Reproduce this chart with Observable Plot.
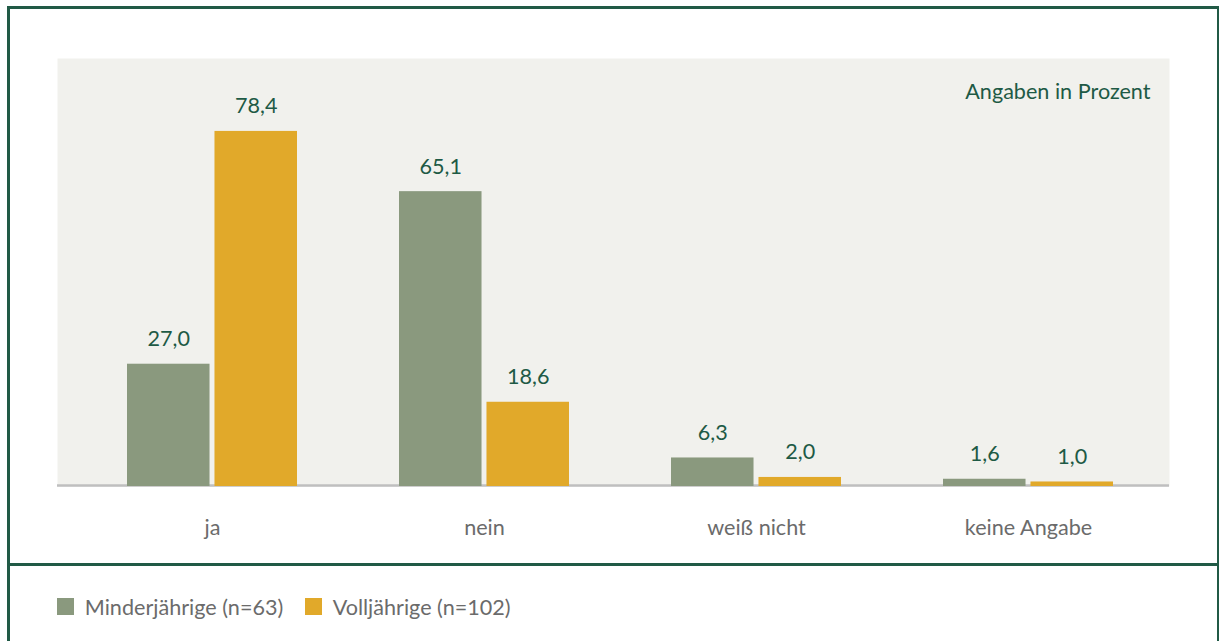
<!DOCTYPE html>
<html>
<head>
<meta charset="utf-8">
<script src="https://cdn.jsdelivr.net/npm/d3@7"></script>
<script src="https://cdn.jsdelivr.net/npm/@observablehq/plot@0.6"></script>
<style>
  html, body { margin: 0; padding: 0; background: #fff; width: 1219px; height: 641px; overflow: hidden; }
  body { position: relative; font-family: Lato, "Open Sans", sans-serif; }
  #frame { position: absolute; left: 7px; top: 6px; width: 1207px; height: 700px; border: 3px solid #215a46; box-sizing: content-box; }
  #sep { position: absolute; left: 7px; top: 563px; width: 1215px; height: 3px; background: #215a46; }
  #chart { position: absolute; left: 0; top: 0; }
  #legend { position: absolute; left: 57px; top: 590px; }
</style>
</head>
<body>
<div id="frame"></div>
<div id="sep"></div>
<div id="chart"></div>
<div id="legend"></div>
<script>
const categories = ["ja", "nein", "weiß nicht", "keine Angabe"];
const seriesNames = ["Minderjährige (n=63)", "Volljährige (n=102)"];
const minderjaehrige = [27.0, 65.1, 6.3, 1.6];
const volljaehrige = [78.4, 18.6, 2.0, 1.0];
const seriesColors = ["#8a997e", "#e1a92a"];
const unitNote = ["Angaben in Prozent"];

const textGreen = "#1e5a45";
const fontPx = 21.6;
const fmt = v => v.toFixed(1).replace(".", ",");

const dataM = categories.map((c, i) => ({cat: c, series: seriesNames[0], value: minderjaehrige[i]}));
const dataV = categories.map((c, i) => ({cat: c, series: seriesNames[1], value: volljaehrige[i]}));

const xRange = [74, 1165];
const pad = 0.375;
const step = (xRange[1] - xRange[0]) / categories.length;
const bw = step * (1 - pad);
const gap = 4.5;
const inset = bw / 2 + gap / 2;
const offset = (bw - inset) / 2 - bw / 2; // negative: center of left bar relative to band center

const chart = Plot.plot({
  width: 1219,
  height: 560,
  marginLeft: 57,
  marginRight: 50,
  marginTop: 58,
  marginBottom: 74,
  style: {fontFamily: "Lato, 'Open Sans', sans-serif", fontSize: fontPx + "px", color: "#6b6b6b", background: "transparent"},
  x: {domain: categories, range: xRange, paddingInner: pad, paddingOuter: pad / 2, tickSize: 0, tickPadding: 33, label: null},
  y: {domain: [0, 94.5], axis: null},
  color: {domain: seriesNames, range: seriesColors},
  marks: [
    Plot.frame({fill: "#f1f1ed", stroke: "none"}),
    Plot.ruleY([0], {stroke: "#bfbfbf", strokeWidth: 2.5, dy: -1}),
    Plot.barY(dataM, {x: "cat", y: "value", fill: "series", insetRight: inset}),
    Plot.barY(dataV, {x: "cat", y: "value", fill: "series", insetLeft: inset}),
    Plot.text(dataM, {x: "cat", y: "value", text: d => fmt(d.value), dx: offset, dy: -25, fill: textGreen, fontSize: fontPx}),
    Plot.text(dataV, {x: "cat", y: "value", text: d => fmt(d.value), dx: -offset, dy: -25, fill: textGreen, fontSize: fontPx}),
    Plot.text(unitNote, {frameAnchor: "top-right", lineAnchor: "middle", dx: -19, dy: 34, fill: textGreen, fontSize: fontPx})
  ]
});
document.getElementById("chart").appendChild(chart);

const legend = Plot.legend({
  color: {domain: seriesNames, range: seriesColors},
  legend: "swatches",
  swatchSize: 17,
  style: {fontFamily: "Lato, 'Open Sans', sans-serif", fontSize: fontPx + "px", color: "#6b6b6b"}
});
document.getElementById("legend").appendChild(legend);
</script>
</body>
</html>
